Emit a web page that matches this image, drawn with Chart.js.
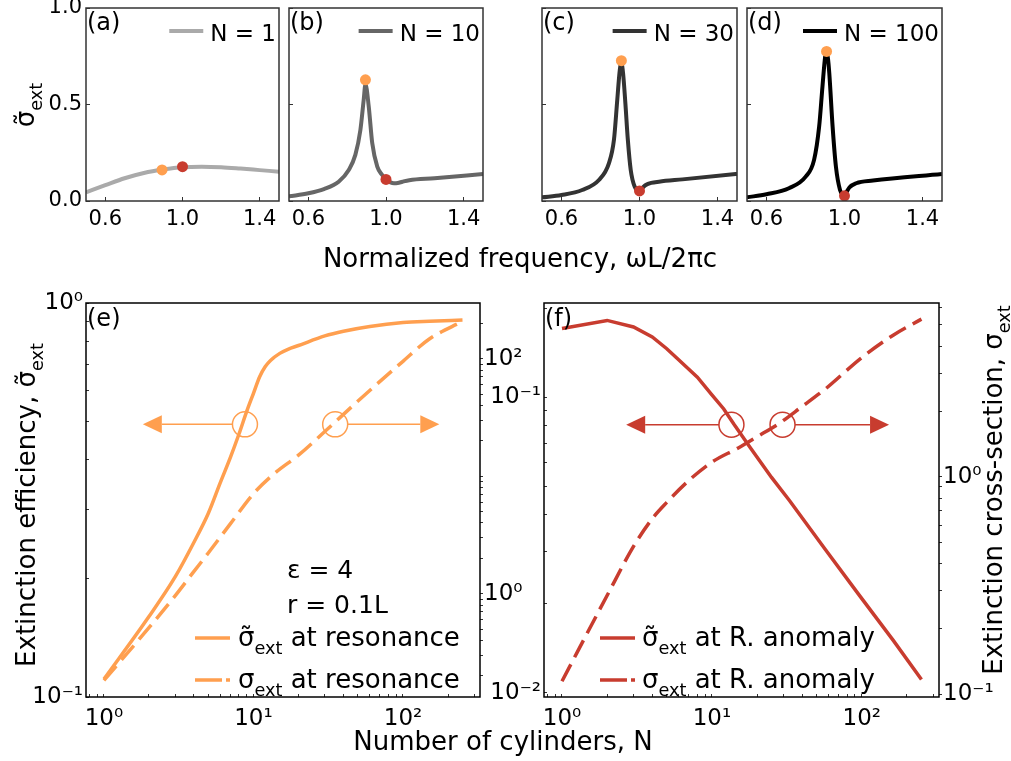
<!DOCTYPE html>
<html>
<head>
<meta charset="utf-8">
<script src="https://cdn.jsdelivr.net/npm/chart.js@4.4.1/dist/chart.umd.min.js"></script>
<style>
  body { margin: 0; background: #fff; }
  #wrap { position: relative; width: 1011px; height: 761px; overflow: hidden; }
  #wrap canvas { position: absolute; left: 0; top: 0; }
</style>
</head>
<body>
<div id="wrap"></div>
<script>
const ORANGE = '#ff9f4f';
const RED = '#c83c2f';
const FONT = '"DejaVu Sans", sans-serif';

// ---- top row: extinction efficiency vs normalized frequency ----
const freqTicks = [0.6, 1.0, 1.4];
const effTicks = [0, 0.5, 1.0];

const freq1 = [0.5, 0.6, 0.7, 0.8, 0.9, 1.0, 1.1, 1.2, 1.3, 1.4, 1.5];
const eff1 = [0.045, 0.082, 0.118, 0.145, 0.163, 0.175, 0.178, 0.175, 0.168, 0.160, 0.152];

const freq10 = [0.5, 0.6, 0.68, 0.756, 0.808, 0.842, 0.868, 0.885, 0.894, 0.911, 0.929, 0.955, 0.98, 1.0, 1.041, 1.06, 1.085, 1.12, 1.25, 1.5];
const eff10 = [0.024, 0.040, 0.062, 0.100, 0.161, 0.239, 0.368, 0.524, 0.605, 0.49, 0.30, 0.178, 0.135, 0.112, 0.092, 0.093, 0.100, 0.108, 0.118, 0.140];

const freq30 = [0.5, 0.6, 0.706, 0.792, 0.843, 0.869, 0.886, 0.898, 0.907, 0.916, 0.928, 0.94, 0.955, 0.975, 1.0, 1.015, 1.032, 1.06, 1.1, 1.22, 1.5];
const eff30 = [0.019, 0.031, 0.057, 0.109, 0.195, 0.317, 0.524, 0.67, 0.715, 0.66, 0.50, 0.32, 0.161, 0.075, 0.052, 0.068, 0.083, 0.094, 0.100, 0.112, 0.140];

const freq100 = [0.5, 0.6, 0.715, 0.801, 0.844, 0.87, 0.887, 0.901, 0.908, 0.915, 0.922, 0.939, 0.956, 0.977, 0.994, 1.0, 1.01, 1.025, 1.06, 1.146, 1.5];
const eff100 = [0.019, 0.035, 0.066, 0.126, 0.213, 0.386, 0.593, 0.749, 0.765, 0.74, 0.663, 0.386, 0.178, 0.057, 0.030, 0.027, 0.045, 0.070, 0.092, 0.106, 0.140];

// markers [freq, eff]
const resMark = [[0.894, 0.161], [0.894, 0.628], [0.907, 0.727], [0.908, 0.775]];
const anomMark = [[1.0, 0.178], [1.0, 0.112], [1.0, 0.052], [1.0, 0.027]];

// ---- bottom row: vs number of cylinders ----
const nLim = [10 ** -0.12, 10 ** 2.515];

// (e) at resonance
const nResEff = [1, 2, 3, 4, 5, 6, 7, 8, 9, 10, 11, 12, 13, 15, 17, 20, 30, 40, 60, 100, 150, 250];
const effRes = [0.111, 0.160, 0.202, 0.247, 0.293, 0.35, 0.405, 0.465, 0.53, 0.59, 0.65, 0.69, 0.715, 0.745, 0.763, 0.78, 0.825, 0.848, 0.872, 0.892, 0.899, 0.905];
const nResCross = [1, 2, 3, 4, 5, 7, 10, 14, 20, 30, 50, 100, 150, 250];
const crossRes = [0.183, 0.514, 0.964, 1.55, 2.23, 3.93, 7.1, 10.7, 15.1, 24, 43.6, 95, 147, 208];
const effLimE = [0.1, 1];
const crossLimE = [10 ** -0.879, 10 ** 2.474];

// (f) at Rayleigh anomaly
const nAnomEff = [1, 2, 3, 4, 5, 6, 8, 10, 12, 14, 18, 25, 33, 56, 95, 163, 250];
const effAnom = [0.171, 0.182, 0.173, 0.160, 0.146, 0.134, 0.117, 0.102, 0.0913, 0.0812, 0.0677, 0.0536, 0.0447, 0.0310, 0.0216, 0.0150, 0.0111];
const nAnomCross = [1, 2, 3, 4, 5, 7, 10, 15, 20, 28, 40, 56, 100, 163, 250];
const crossAnom = [0.115, 0.285, 0.479, 0.643, 0.764, 0.962, 1.17, 1.36, 1.53, 1.76, 2.11, 2.51, 3.54, 4.5, 5.32];
const effLimF = [10 ** -2.0136, 10 ** -0.681];
const crossLimF = [10 ** -1.012, 10 ** 0.80];

// arrow annotations: circle N, arrow tip N, level on left axis
const arrowsE = { y: 0.492, circles: [8.77, 35.2], tips: [1.82, 175] };
const arrowsF = { y: 0.0808, circles: [13.5, 29.6], tips: [2.68, 152] };

Chart.defaults.font.family = FONT;
Chart.defaults.color = '#000';

function makeCanvas() {
  const c = document.createElement('canvas');
  c.width = 1011;
  c.height = 761;
  document.getElementById('wrap').appendChild(c);
  return c;
}

function pts(xs, ys) {
  return xs.map((x, i) => ({ x: x, y: ys[i] }));
}

const SUP = { '-': '\u207b', '0': '\u2070', '1': '\u00b9', '2': '\u00b2', '3': '\u00b3' };
function expOf(v) {
  const e = Math.log10(v);
  return Math.abs(e - Math.round(e)) < 1e-6 ? Math.round(e) : null;
}
function powLabel(e) {
  return '10' + String(e).split('').map(ch => SUP[ch]).join('');
}
// 1..9 x 10^e ticks inside the axis range
function logTicks(s) {
  const out = [];
  for (let e = Math.floor(Math.log10(s.min)); e <= Math.ceil(Math.log10(s.max)); e++) {
    for (let m = 1; m < 10; m++) {
      const v = m * 10 ** e;
      if (v >= s.min * 0.9999 && v <= s.max * 1.0001) out.push({ value: v, major: m === 1 });
    }
  }
  s.ticks = out;
}
// fixed axis size, no extra layout padding from edge labels
function fixW(w) {
  return s => { s.width = w; s.paddingTop = 0; s.paddingBottom = 0; s.paddingLeft = 0; s.paddingRight = 0; };
}
function fixH(h) {
  return s => { s.height = h; s.paddingTop = 0; s.paddingBottom = 0; s.paddingLeft = 0; s.paddingRight = 0; };
}

// text with subscripts: parts = [[text, isSub], ...], y = baseline
function rich(ctx, parts, x, y, size, align) {
  ctx.textBaseline = 'alphabetic';
  ctx.textAlign = 'left';
  const ws = parts.map(p => {
    ctx.font = (p[1] ? size * 0.68 : size) + 'px ' + FONT;
    return ctx.measureText(p[0]).width;
  });
  const total = ws.reduce((a, b) => a + b, 0);
  let cx = align === 'center' ? x - total / 2 : (align === 'right' ? x - total : x);
  parts.forEach((p, i) => {
    ctx.font = (p[1] ? size * 0.68 : size) + 'px ' + FONT;
    ctx.fillText(p[0], cx, y + (p[1] ? size * 0.3 : 0));
    cx += ws[i];
  });
}
function richUp(ctx, parts, x, y, size) {
  ctx.save();
  ctx.translate(x, y);
  ctx.rotate(-Math.PI / 2);
  rich(ctx, parts, 0, 0, size, 'center');
  ctx.restore();
}
function txt(ctx, s, x, y, size, align) {
  ctx.font = size + 'px ' + FONT;
  ctx.textAlign = align || 'left';
  ctx.textBaseline = 'alphabetic';
  ctx.fillStyle = '#000';
  ctx.fillText(s, x, y);
}
function legLine(ctx, x1, x2, y, color, width, dash) {
  ctx.save();
  ctx.strokeStyle = color;
  ctx.lineWidth = width;
  ctx.setLineDash(dash || []);
  ctx.beginPath();
  ctx.moveTo(x1, y);
  ctx.lineTo(x2, y);
  ctx.stroke();
  ctx.restore();
}

function frame(color) {
  return {
    id: 'frame',
    afterDraw(chart) {
      const a = chart.chartArea, c = chart.ctx;
      c.save();
      c.strokeStyle = color;
      c.lineWidth = 1.5;
      c.strokeRect(a.left, a.top, a.right - a.left, a.bottom - a.top);
      c.restore();
    }
  };
}

function arrowPlugin(spec, color) {
  return {
    id: 'arrows',
    afterDatasetsDraw(chart) {
      const c = chart.ctx, xs = chart.scales.x, ys = chart.scales.y;
      const R = 12.5, L = 19, HW = 9;
      const py = ys.getPixelForValue(spec.y);
      c.save();
      c.strokeStyle = color;
      c.fillStyle = color;
      c.lineWidth = 1.5;
      spec.circles.forEach((n, i) => {
        const cx = xs.getPixelForValue(n);
        const tip = xs.getPixelForValue(spec.tips[i]);
        const dir = tip < cx ? -1 : 1;
        c.beginPath();
        c.arc(cx, py, R, 0, Math.PI * 2);
        c.stroke();
        c.beginPath();
        c.moveTo(cx + dir * R, py);
        c.lineTo(tip - dir * L, py);
        c.stroke();
        c.beginPath();
        c.moveTo(tip, py);
        c.lineTo(tip - dir * L, py - HW);
        c.lineTo(tip - dir * L, py + HW);
        c.closePath();
        c.fill();
      });
      c.restore();
    }
  };
}

function tickGrid(len) {
  return { drawOnChartArea: false, tickLength: len, tickColor: '#333', lineWidth: 1 };
}

// ---------- top panels ----------
const topPanels = [
  { l: 86, r: 279, f: freq1, s: eff1, color: '#aaaaaa', name: 'N = 1', tag: '(a)', labels: true },
  { l: 289, r: 483, f: freq10, s: eff10, color: '#666666', name: 'N = 10', tag: '(b)', labels: false },
  { l: 542, r: 737, f: freq30, s: eff30, color: '#333333', name: 'N = 30', tag: '(c)', labels: false },
  { l: 747, r: 942, f: freq100, s: eff100, color: '#000000', name: 'N = 100', tag: '(d)', labels: false }
];

topPanels.forEach((p, k) => {
  const YW = 60, XH = 40, TOP = 8, BOT = 201;
  new Chart(makeCanvas(), {
    type: 'line',
    data: {
      datasets: [
        { type: 'scatter', data: [{ x: resMark[k][0], y: resMark[k][1] }], backgroundColor: ORANGE, pointRadius: 5.5, borderWidth: 0 },
        { type: 'scatter', data: [{ x: anomMark[k][0], y: anomMark[k][1] }], backgroundColor: RED, pointRadius: 5.5, borderWidth: 0 },
        { data: pts(p.f, p.s), borderColor: p.color, borderWidth: 4, pointRadius: 0, cubicInterpolationMode: 'monotone', fill: false }
      ]
    },
    options: {
      responsive: false, animation: false, events: [],
      layout: { autoPadding: false, padding: { left: p.l - YW, top: TOP, right: 1011 - p.r, bottom: 761 - BOT - XH } },
      plugins: { legend: { display: false }, tooltip: { enabled: false } },
      scales: {
        x: {
          type: 'linear', min: 0.5, max: 1.5,
          afterBuildTicks: s => { s.ticks = freqTicks.map(v => ({ value: v })); },
          afterFit: fixH(XH),
          ticks: { font: { size: 21 }, color: '#000', padding: 10, maxRotation: 0, autoSkip: false, callback: v => v.toFixed(1) },
          grid: tickGrid(-4), border: { display: false }
        },
        y: {
          type: 'linear', min: 0, max: 1,
          afterBuildTicks: s => { s.ticks = effTicks.map(v => ({ value: v })); },
          afterFit: fixW(YW),
          ticks: { font: { size: 21 }, color: '#000', padding: 8, autoSkip: false, callback: v => p.labels ? v.toFixed(1) : '' },
          grid: tickGrid(-4), border: { display: false }
        }
      }
    },
    plugins: [frame('#333'), {
      id: 'txt',
      afterDraw(chart) {
        const c = chart.ctx, a = chart.chartArea;
        txt(c, p.tag, a.left + 1, 30, 24);
        c.font = '23px ' + FONT;
        const w = c.measureText(p.name).width;
        txt(c, p.name, a.right - 3, 41, 23, 'right');
        legLine(c, a.right - 3 - w - 41, a.right - 3 - w - 7, 31, p.color, 4);
        if (k === 0) {
          c.fillStyle = '#000';
          txt(c, 'Normalized frequency, \u03c9L/2\u03c0c', 520, 267, 26, 'center');
          richUp(c, [['\u03c3\u0303', false], ['ext', true]], 34, 105, 26);
        }
      }
    }]
  });
});

// ---------- bottom panels ----------
function bottomPanel(p) {
  const YW = 70, RW = 55, XH = 50, TOP = 303, BOT = 697;
  const logLabel = v => { const e = expOf(v); return e === null ? '' : powLabel(e); };
  new Chart(makeCanvas(), {
    type: 'line',
    data: {
      datasets: [
        { data: pts(p.n1, p.v1), yAxisID: 'y', borderColor: p.color, borderWidth: 3.5, pointRadius: 0, cubicInterpolationMode: p.smooth ? 'monotone' : 'default', tension: 0, fill: false },
        { data: pts(p.n2, p.v2), yAxisID: 'y2', borderColor: p.color, borderWidth: 3.5, borderDash: [19, 8], pointRadius: 0, cubicInterpolationMode: 'monotone', fill: false }
      ]
    },
    options: {
      responsive: false, animation: false, events: [],
      layout: { autoPadding: false, padding: { left: p.l - YW, top: TOP, right: 1011 - p.r - RW, bottom: 761 - BOT - XH } },
      plugins: { legend: { display: false }, tooltip: { enabled: false } },
      scales: {
        x: {
          type: 'logarithmic', min: nLim[0], max: nLim[1],
          afterBuildTicks: logTicks,
          afterFit: fixH(XH),
          ticks: { font: { size: 23 }, color: '#000', padding: 11, maxRotation: 0, minRotation: 0, autoSkip: false, callback: logLabel },
          grid: tickGrid(-3), border: { display: false }
        },
        y: {
          type: 'logarithmic', position: 'left', min: p.lim1[0], max: p.lim1[1],
          afterBuildTicks: logTicks,
          afterFit: fixW(YW),
          ticks: { font: { size: 23 }, color: '#000', padding: 6, autoSkip: false, callback: logLabel },
          grid: tickGrid(-3), border: { display: false }
        },
        y2: {
          type: 'logarithmic', position: 'right', min: p.lim2[0], max: p.lim2[1],
          afterBuildTicks: logTicks,
          afterFit: fixW(RW),
          ticks: { font: { size: 23 }, color: '#000', padding: 1, autoSkip: false,
            callback: v => { const e = expOf(v); return (e === null || (p.even && e % 2 !== 0)) ? '' : powLabel(e); } },
          grid: tickGrid(3), border: { display: false }
        }
      }
    },
    plugins: [frame('#000'), arrowPlugin(p.arrows, p.color), { id: 'txt', afterDraw(chart) { p.text(chart.ctx, chart.chartArea); } }]
  });
}

bottomPanel({
  l: 86, r: 480, color: ORANGE, smooth: true, even: true,
  n1: nResEff, v1: effRes, n2: nResCross, v2: crossRes,
  lim1: effLimE, lim2: crossLimE, arrows: arrowsE,
  text(c, a) {
    c.fillStyle = '#000';
    txt(c, '(e)', a.left + 1, 326, 24);
    txt(c, '\u03b5 = 4', 287, 578, 25);
    txt(c, 'r = 0.1L', 287, 613, 25);
    legLine(c, 195, 230, 638, ORANGE, 3.5);
    legLine(c, 195, 230, 680, ORANGE, 3.5, [27, 4, 5, 10]);
    c.fillStyle = '#000';
    rich(c, [['\u03c3\u0303', false], ['ext', true], [' at resonance', false]], 238, 646, 26, 'left');
    rich(c, [['\u03c3', false], ['ext', true], [' at resonance', false]], 238, 688, 26, 'left');
    txt(c, 'Number of cylinders, N', 503, 750, 26, 'center');
    c.fillStyle = '#000';
    richUp(c, [['Extinction efficiency, \u03c3\u0303', false], ['ext', true]], 35, 505, 26);
  }
});

bottomPanel({
  l: 544, r: 939, color: RED, smooth: false, even: false,
  n1: nAnomEff, v1: effAnom, n2: nAnomCross, v2: crossAnom,
  lim1: effLimF, lim2: crossLimF, arrows: arrowsF,
  text(c, a) {
    c.fillStyle = '#000';
    txt(c, '(f)', a.left + 1, 326, 24);
    legLine(c, 600, 635, 638, RED, 3.5);
    legLine(c, 600, 635, 680, RED, 3.5, [27, 4, 5, 10]);
    c.fillStyle = '#000';
    rich(c, [['\u03c3\u0303', false], ['ext', true], [' at R. anomaly', false]], 642, 646, 26, 'left');
    rich(c, [['\u03c3', false], ['ext', true], [' at R. anomaly', false]], 642, 688, 26, 'left');
    c.fillStyle = '#000';
    richUp(c, [['Extinction cross-section, \u03c3', false], ['ext', true]], 1002, 490, 26);
  }
});
</script>
</body>
</html>
